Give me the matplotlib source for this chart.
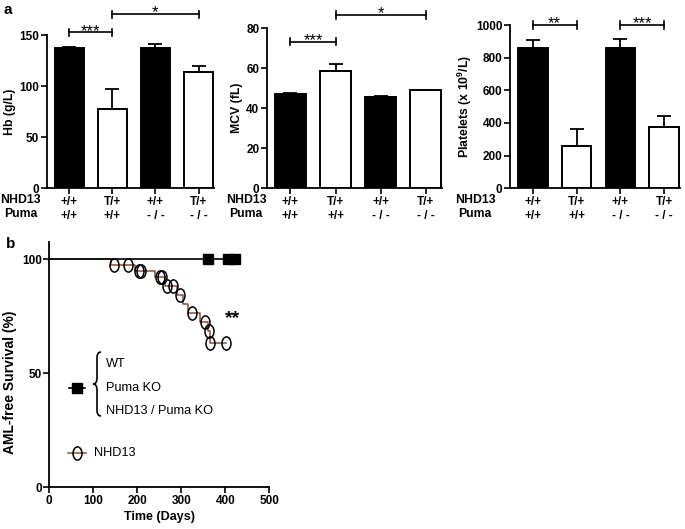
import numpy as np
import matplotlib.pyplot as plt
from matplotlib.path import Path
from matplotlib.patches import PathPatch
from matplotlib.lines import Line2D
from matplotlib.transforms import Affine2D

plt.rcParams['font.family'] = ['Liberation Sans', 'DejaVu Sans']
plt.rcParams['mathtext.fontset'] = 'custom'
plt.rcParams['mathtext.rm'] = 'Liberation Sans'
plt.rcParams['mathtext.bf'] = 'Liberation Sans:bold'

# ---------------- data ----------------
nhd13_geno = ['+/+', 'T/+', '+/+', 'T/+']
puma_geno = ['+/+', '+/+', '- / -', '- / -']
bar_fill = ['black', 'white', 'black', 'white']

hb_mean = [137, 78, 137, 114]
hb_sem = [1, 19, 4, 6]
mcv_mean = [47.3, 58.5, 45.8, 49.0]
mcv_sem = [0.3, 3.5, 0.3, 0.2]
plt_mean = [857, 259, 857, 378]
plt_sem = [52, 107, 58, 65]

hb_sig = [(0, 1, 152.6, '***'), (1, 3, 170.5, '*')]
mcv_sig = [(0, 1, 73.3, '***'), (1, 3, 86.7, '*')]
plt_sig = [(0, 1, 1000, '**'), (2, 3, 1000, '***')]

# survival (panel b)
ko_censor_days = [361, 406, 422]          # WT / Puma KO / NHD13-Puma KO (all 100 %)
nhd13_step_days = [0, 140, 195, 240, 262, 290, 303, 316, 343, 360, 365, 402]
nhd13_step_surv = [100, 97.4, 94.7, 92.1, 88.2, 84.2, 80.3, 76.3, 72.4, 68.4, 63.2, 63.2]
nhd13_mark_days = [147, 179, 204, 208, 252, 256, 267, 281, 297, 324, 354, 363, 366, 402]

W, H = 685, 529
fig = plt.figure(figsize=(W / 100, H / 100), dpi=100)


def px_axes(l, t, r, b):
    return fig.add_axes([l / W, 1 - b / H, (r - l) / W, (b - t) / H])


def fx(px):
    return px / W


def fy(py):
    return 1 - py / H


def style_axes(ax):
    for s in ['top', 'right']:
        ax.spines[s].set_visible(False)
    for s in ['left', 'bottom']:
        ax.spines[s].set_linewidth(1.3)
    ax.tick_params(direction='out', length=4, width=1.2, labelsize=8.5, pad=1.5)
    for lab in ax.get_yticklabels():
        lab.set_fontweight('bold')


def bar_panel(ax, vals, errs, ymax, yticks, ylabel, sig, row_dx, ylab_dx):
    x = np.arange(len(vals))
    ax.bar(x, vals, width=0.68, color=bar_fill, edgecolor='black', linewidth=1.4, zorder=2)
    ax.errorbar(x, vals, yerr=[np.zeros(len(vals)), errs], fmt='none', ecolor='black',
                elinewidth=1.3, capsize=5, capthick=1.3, zorder=3)
    ax.set_xlim(-0.52, 3.36)
    ax.set_ylim(0, ymax)
    ax.set_yticks(yticks)
    ax.set_xticks(x)
    ax.set_xticklabels([f'{a}\n{b}' for a, b in zip(nhd13_geno, puma_geno)],
                       fontweight='bold', fontsize=8.8, linespacing=1.2)
    style_axes(ax)
    ax.set_ylabel(ylabel, fontweight='bold', fontsize=8.8)
    bbox = ax.get_position()
    ax.yaxis.set_label_coords(-ylab_dx / (bbox.width * W), 0.5)
    d = 0.023 * ymax
    for i, j, y, txt in sig:
        ax.plot([i, j], [y, y], color='black', lw=1.2, clip_on=False)
        ax.plot([i, i], [y - d, y + d], color='black', lw=1.2, clip_on=False)
        ax.plot([j, j], [y - d, y + d], color='black', lw=1.2, clip_on=False)
        ax.annotate(txt, xy=((i + j) / 2, y), xytext=(0, -2.5), textcoords='offset points',
                    ha='center', va='baseline', fontsize=12,
                    annotation_clip=False)
    ax.annotate('NHD13\nPuma', xy=(0, 0), xycoords='axes fraction',
                xytext=(row_dx, -4.4), textcoords='offset points', ha='center', va='top',
                fontsize=8.8, fontweight='bold', linespacing=1.2)


ax1 = px_axes(47, 35, 214, 188.3)
bar_panel(ax1, hb_mean, hb_sem, 150, [0, 50, 100, 150], 'Hb (g/L)', hb_sig, -19, 31)
ax2 = px_axes(267, 28.3, 442, 188.3)
bar_panel(ax2, mcv_mean, mcv_sem, 80, [0, 20, 40, 60, 80], 'MCV (fL)', mcv_sig, -15, 24)
ax3 = px_axes(510, 25, 680, 188.3)
bar_panel(ax3, plt_mean, plt_sem, 1000, [0, 200, 400, 600, 800, 1000],
          r'Platelets (x 10$^{\mathbf{9}}$/L)', plt_sig, -25, 36)

fig.text(fx(3), fy(10), 'a', fontsize=11, fontweight='bold', va='center')
fig.text(fx(6), fy(244), 'b', fontsize=11, fontweight='bold', va='center')

# ---------------- panel b ----------------
axb = px_axes(49.3, 242, 269.3, 487.3)
ellipse = Path.unit_circle().transformed(Affine2D().scale(0.68, 1.0))
nhd13_col = '#8a4c40'

axb.plot([0, max(ko_censor_days)], [100, 100], color='black', lw=1.2, zorder=2)
axb.plot(ko_censor_days, [100] * len(ko_censor_days), ls='none', marker='s',
         ms=7, color='black', zorder=3)

axb.step(nhd13_step_days, nhd13_step_surv, where='post', color=nhd13_col, lw=1.1, zorder=1)
idx = np.searchsorted(nhd13_step_days, nhd13_mark_days, side='right') - 1
mark_surv = np.array(nhd13_step_surv)[idx]
axb.plot(nhd13_mark_days, mark_surv, ls='none', marker=ellipse, ms=9.5,
         mfc='none', mec='black', mew=1.1, zorder=4)

axb.set_xlim(0, 500)
axb.set_ylim(0, 107.5)
axb.set_xticks([0, 100, 200, 300, 400, 500])
axb.set_yticks([0, 50, 100])
style_axes(axb)
for lab in axb.get_xticklabels():
    lab.set_fontweight('bold')
axb.set_xlabel('Time (Days)', fontweight='bold', fontsize=9, labelpad=3)
axb.set_ylabel('AML-free Survival (%)', fontweight='bold', fontsize=10)
axb.yaxis.set_label_coords(-32 / 220, 0.43)
axb.text(416, 74, '**', fontsize=14, fontweight='bold', ha='center', va='center')

# legend (drawn by hand, brace layout)
fig.add_artist(Line2D([fx(69), fx(85)], [fy(388), fy(388)], color='black', lw=1.2,
                      transform=fig.transFigure))
fig.add_artist(Line2D([fx(77)], [fy(388)], marker='s', ms=7, color='black',
                      transform=fig.transFigure))
fig.add_artist(Line2D([fx(68), fx(86)], [fy(453), fy(453)], color=nhd13_col, lw=1.1,
                      transform=fig.transFigure))
fig.add_artist(Line2D([fx(77)], [fy(453)], marker=ellipse, ms=9.5, mfc='none', mec='black',
                      mew=1.1, transform=fig.transFigure))

brace_px = [(101, 352), (97, 352), (97, 358), (97, 378), (97, 384), (93, 384),
            (97, 384), (97, 390), (97, 410), (97, 416), (101, 416)]
brace_codes = [Path.MOVETO, Path.CURVE3, Path.CURVE3, Path.LINETO, Path.CURVE3, Path.CURVE3,
               Path.CURVE3, Path.CURVE3, Path.LINETO, Path.CURVE3, Path.CURVE3]
brace = Path([(fx(a), fy(b)) for a, b in brace_px], brace_codes)
fig.add_artist(PathPatch(brace, fc='none', ec='black', lw=1.2, transform=fig.transFigure))

fig.text(fx(106), fy(364), 'WT', fontsize=9.2, va='center')
fig.text(fx(106), fy(388), 'Puma KO', fontsize=9.2, va='center')
fig.text(fx(106), fy(411), 'NHD13 / Puma KO', fontsize=9.2, va='center')
fig.text(fx(94), fy(453), 'NHD13', fontsize=9.2, va='center')

fig.savefig('out.png', dpi=100)
